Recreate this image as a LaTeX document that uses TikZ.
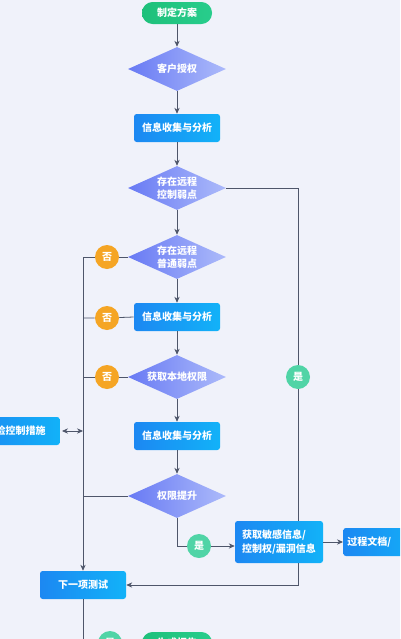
\documentclass[tikz,border=0pt]{standalone}
\usepackage{fontspec}
\newfontfamily\cjk{Noto Sans CJK SC}
\usetikzlibrary{positioning,arrows.meta,shapes.geometric}
\definecolor{PageBg}{RGB}{240,242,250}
\definecolor{LineGray}{RGB}{78,86,106}
\definecolor{StartGreen}{RGB}{30,192,122}
\definecolor{StartGreenLight}{RGB}{40,205,140}
\definecolor{BoxBlue}{RGB}{28,136,242}
\definecolor{BoxBlueLight}{RGB}{18,178,248}
\definecolor{DiaBlue}{RGB}{104,122,244}
\definecolor{DiaBlueLight}{RGB}{172,186,250}
\definecolor{NoOrange}{RGB}{245,165,36}
\definecolor{YesTeal}{RGB}{80,212,166}

\begin{document}
\begin{tikzpicture}[x=0.75pt,y=-0.75pt,
  every node/.style={font=\cjk\bfseries\fontsize{7.5}{10}\selectfont,text=white},
  terminal/.style={rounded corners=8pt,left color=StartGreen,right color=StartGreenLight,minimum width=52.5pt,minimum height=16.5pt,inner sep=0pt},
  procbox/.style={rounded corners=2pt,left color=BoxBlue,right color=BoxBlueLight,minimum width=64.5pt,minimum height=21pt,inner sep=2pt},
  decision/.style={diamond,left color=DiaBlue,right color=DiaBlueLight,minimum width=73.5pt,minimum height=33pt,shape aspect=2.2,inner sep=0pt,align=center},
  nocircle/.style={circle,fill=NoOrange,minimum size=18pt,inner sep=0pt},
  yescircle/.style={circle,fill=YesTeal,minimum size=18pt,inner sep=0pt},
  flow/.style={LineGray,line width=0.6pt},
  arr/.style={flow,-{Stealth[length=4.5pt,width=4pt]}}]
\useasboundingbox (0,0) rectangle (400,639);
\fill[PageBg] (0,0) rectangle (400,639);
\clip (0,0) rectangle (400,639);

% main column
\node[terminal] (start) at (177,13) {制定方案};
\node[decision] (auth) at (177,69) {客户授权};
\node[procbox] (infoa) at (177,128) {信息收集与分析};
\node[decision] (remctl) at (177,188) {存在远程\\控制弱点};
\node[decision] (remgen) at (177,257) {存在远程\\普通弱点};
\node[procbox] (infob) at (177,317) {信息收集与分析};
\node[decision] (local) at (177,377) {获取本地权限};
\node[procbox] (infoc) at (177,436) {信息收集与分析};
\node[decision] (escal) at (177,496) {权限提升};

% side nodes
\node[nocircle] (noa) at (107,257) {否};
\node[nocircle] (nob) at (107,318) {否};
\node[nocircle] (noc) at (107,377) {否};
\node[yescircle] (yesa) at (298,377) {是};
\node[yescircle] (yesb) at (199,546) {是};
\node[procbox,minimum width=66pt,minimum height=31.5pt,align=left] (sens) at (279,542) {获取敏感信息/\\控制权/漏洞信息};
\node[procbox,anchor=west,minimum width=60pt,align=left,text width=54pt] (doc) at (343,542) {过程文档/};
\node[procbox,anchor=east,minimum width=66pt] (risk) at (60,431) {风险控制措施};
\node[procbox] (next) at (83,585) {下一项测试};
\node[yescircle] (yesc) at (110,643) {是};
\node[terminal] (report) at (177,643) {生成报告};
\coordinate (rail) at (83,257);

% connectors
\draw[arr] (start) -- (auth);
\draw[arr] (auth) -- (infoa);
\draw[arr] (infoa) -- (remctl);
\draw[arr] (remctl) -- (remgen);
\draw[arr] (remgen) -- (infob);
\draw[arr] (infob) -- (local);
\draw[arr] (local) -- (infoc);
\draw[arr] (infoc) -- (escal);
\draw[flow] (remgen.west) -- (noa) -- (rail);
\draw[flow] (infob.west) -- (nob) -- (nob -| rail);
\draw[flow] (local.west) -- (noc) -- (noc -| rail);
\draw[flow] (escal.west) -- (escal.west -| rail);
\draw[arr] (rail) -- (next.north);
\draw[flow,{Stealth[length=4.5pt,width=4pt]}-{Stealth[length=4.5pt,width=4pt]}] (risk.east) ++(2,0) -- (risk.east -| rail);
\draw[flow] (remctl.east) -| (yesa);
\draw[flow] (yesa) -- (yesa |- sens.north);
\draw[arr] (yesa |- sens.south) |- (next.east);
\draw[flow] (escal.south) |- (yesb);
\draw[arr] (yesb) -- (sens.west |- yesb);
\draw[arr] (sens.east) -- (doc.west);
\draw[flow] (next.south) |- (yesc);
\draw[arr] (yesc) -- (report);
\end{tikzpicture}
\end{document}
